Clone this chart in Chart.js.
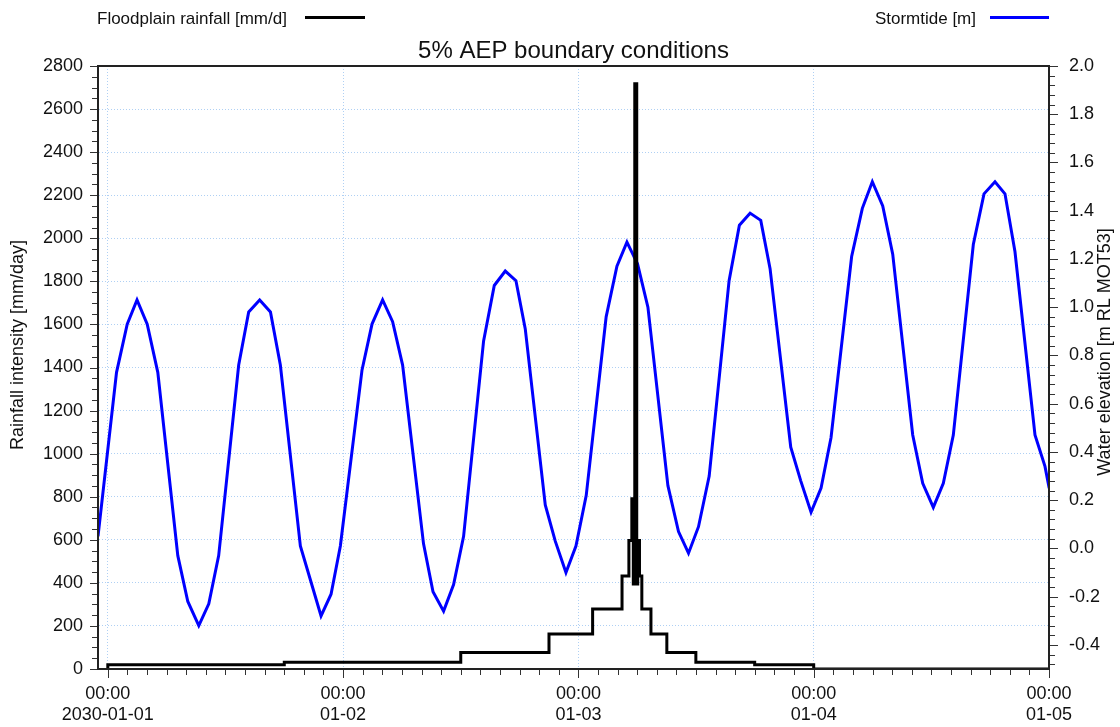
<!DOCTYPE html>
<html>
<head>
<meta charset="utf-8">
<title>5% AEP boundary conditions</title>
<script src="https://cdn.jsdelivr.net/npm/chart.js@4.4.1/dist/chart.umd.min.js"></script>
<style>
  html, body { margin: 0; padding: 0; background: #fff; }
  #wrap { width: 1120px; height: 727px; }
</style>
</head>
<body>
<div id="wrap"><canvas id="bcChart"></canvas></div>
<script>
// Time is in hours from 2030-01-01 00:00

// Floodplain rainfall [mm/d], each value holds from its start hour to the next one
const rainHours  = [0, 0, 18, 36, 45, 49.45, 52.45, 53.15, 53.45, 53.6, 53.75, 53.95, 54.05, 54.23, 54.47, 55.4, 57.02, 59.98, 65.98, 72, 96];
const rainValues = [0, 20, 31, 77, 162, 279, 432, 597, 790, 395, 2717, 395, 597, 432, 279, 162, 77, 31, 20, 0, 0];

// Stormtide [m]
const tideHours  = [-1, 0.89, 1.98, 2.98, 4.02, 5.10, 7.14, 8.16, 9.28, 10.30, 11.31, 13.35, 14.37, 15.49, 16.59, 17.60,
  19.64, 20.66, 21.75, 22.77, 23.72, 25.93, 26.95, 28.03, 29.05, 30.07, 32.20, 33.17, 34.25, 35.27, 36.29,
  38.33, 39.42, 40.54, 41.63, 42.58, 44.62, 45.64, 46.73, 47.75, 48.80, 50.83, 51.93, 52.95, 54.03, 55.09,
  57.13, 58.21, 59.23, 60.25, 61.34, 63.37, 64.42, 65.51, 66.60, 67.55, 69.66, 70.68, 71.73, 72.75, 73.77,
  75.87, 76.96, 77.98, 79.04, 80.06, 82.10, 83.12, 84.20, 85.22, 86.24, 88.28, 89.37, 90.49, 91.51, 92.53,
  94.57, 95.59, 96.02];
const tideLevels = [0.05, 0.73, 0.93, 1.03, 0.93, 0.73, -0.03, -0.22, -0.32, -0.23, -0.03, 0.76, 0.98, 1.03, 0.98, 0.76,
  0.01, -0.13, -0.28, -0.19, 0.01, 0.74, 0.93, 1.03, 0.94, 0.76, 0.02, -0.18, -0.26, -0.15, 0.05,
  0.86, 1.09, 1.15, 1.11, 0.91, 0.18, 0.03, -0.10, 0.01, 0.22, 0.96, 1.17, 1.27, 1.18, 1.00,
  0.26, 0.07, -0.02, 0.09, 0.30, 1.11, 1.34, 1.39, 1.36, 1.16, 0.42, 0.28, 0.15, 0.25, 0.46,
  1.21, 1.41, 1.52, 1.42, 1.22, 0.47, 0.27, 0.17, 0.27, 0.47, 1.26, 1.47, 1.52, 1.47, 1.23,
  0.47, 0.34, 0.25];

// Axis ticks
const dayHours  = [0, 24, 48, 72, 96];
const dayLabels = ['2030-01-01', '01-02', '01-03', '01-04', '01-05'];
const rainTicks = [0, 200, 400, 600, 800, 1000, 1200, 1400, 1600, 1800, 2000, 2200, 2400, 2600, 2800];
const levelTicks = [-0.4, -0.2, 0, 0.2, 0.4, 0.6, 0.8, 1.0, 1.2, 1.4, 1.6, 1.8, 2.0];

const FONT = '"Liberation Sans", Arial, sans-serif';
const GRID = 'rgba(110, 170, 235, 0.55)';

// Rahmen, Tick-Striche, Titel und Legende
const decorations = {
    id: 'decorations',
    afterDraw(chart) {
        const { ctx, chartArea: a, scales } = chart;
        ctx.save();

        ctx.strokeStyle = '#333';
        ctx.lineWidth = 1;
        const tick = (x1, y1, x2, y2) => {
            ctx.beginPath(); ctx.moveTo(x1, y1); ctx.lineTo(x2, y2); ctx.stroke();
        };
        for (let h = 0; h <= 96; h += 2) {
            const px = Math.round(scales.x.getPixelForValue(h)) + 0.5;
            tick(px, a.bottom, px, a.bottom + (h % 24 === 0 ? 9 : 6));
        }
        for (let k = 0; k <= 56; k++) {
            const py = Math.round(scales.y.getPixelForValue(k * 50)) + 0.5;
            tick(a.left - (k % 4 === 0 ? 8 : 6), py, a.left, py);
        }
        for (let k = -12; k <= 50; k++) {
            const py = Math.round(scales.y1.getPixelForValue(k * 0.04)) + 0.5;
            tick(a.right, py, a.right + (k % 5 === 0 ? 9 : 6), py);
        }

        ctx.strokeStyle = '#222';
        ctx.lineWidth = 2;
        ctx.strokeRect(a.left, a.top, a.right - a.left, a.bottom - a.top);

        ctx.fillStyle = '#111';
        ctx.textBaseline = 'alphabetic';

        ctx.font = '24px ' + FONT;
        ctx.textAlign = 'center';
        ctx.fillText('5% AEP boundary conditions', (a.left + a.right) / 2, 58);

        ctx.font = '17px ' + FONT;
        ctx.textAlign = 'left';
        ctx.fillText('Floodplain rainfall [mm/d]', 97, 24);
        ctx.textAlign = 'right';
        ctx.fillText('Stormtide [m]', 976, 24);

        ctx.lineWidth = 3;
        ctx.strokeStyle = '#000';
        tick(305, 17.5, 365, 17.5);
        ctx.strokeStyle = '#0000ff';
        tick(990, 17.5, 1049, 17.5);

        ctx.font = '18px ' + FONT;
        ctx.textAlign = 'center';
        ctx.textBaseline = 'middle';
        ctx.translate(18, 345);
        ctx.rotate(-Math.PI / 2);
        ctx.fillText('Rainfall intensity [mm/day]', 0, 0);
        ctx.setTransform(1, 0, 0, 1, 0, 0);
        ctx.translate(1105, 352);
        ctx.rotate(-Math.PI / 2);
        ctx.fillText('Water elevation [m RL MOT53]', 0, 0);

        ctx.restore();
    }
};

function buildChart() {
    const ctx = document.getElementById('bcChart').getContext('2d');
    return new Chart(ctx, {
        type: 'line',
        data: {
            datasets: [{
                label: 'Floodplain rainfall [mm/d]',
                data: rainHours.map((h, i) => ({ x: h, y: rainValues[i] })),
                yAxisID: 'y',
                borderColor: '#000',
                borderWidth: 3,
                stepped: 'before',
                pointRadius: 0
            }, {
                label: 'Stormtide [m]',
                data: tideHours.map((h, i) => ({ x: h, y: tideLevels[i] })),
                yAxisID: 'y1',
                borderColor: '#0000ff',
                borderWidth: 3,
                tension: 0,
                pointRadius: 0
            }]
        },
        options: {
            responsive: true,
            maintainAspectRatio: false,
            animation: false,
            layout: { padding: { top: 66, left: 0, right: 0, bottom: 0 } },
            plugins: {
                legend: { display: false },
                title: { display: false },
                tooltip: { enabled: false }
            },
            scales: {
                x: {
                    type: 'linear',
                    min: -1,
                    max: 96,
                    afterBuildTicks: s => { s.ticks = dayHours.map(v => ({ value: v })); },
                    afterFit: s => { s.height = 58; },
                    grid: { color: GRID, drawTicks: false },
                    border: { color: '#222', width: 2, dash: [1, 2] },
                    ticks: {
                        color: '#111',
                        font: { family: FONT, size: 18 },
                        padding: 14,
                        maxRotation: 0,
                        autoSkip: false,
                        callback: v => ['00:00', dayLabels[dayHours.indexOf(v)]]
                    }
                },
                y: {
                    position: 'left',
                    min: 0,
                    max: 2800,
                    afterBuildTicks: s => { s.ticks = rainTicks.map(v => ({ value: v })); },
                    afterFit: s => { s.width = 98; },
                    grid: { color: GRID, drawTicks: false },
                    border: { color: '#222', width: 2, dash: [1, 2] },
                    ticks: {
                        color: '#111',
                        font: { family: FONT, size: 18 },
                        padding: 15,
                        callback: v => String(v)
                    }
                },
                y1: {
                    position: 'right',
                    min: -0.5,
                    max: 2.0,
                    afterBuildTicks: s => { s.ticks = levelTicks.map(v => ({ value: v })); },
                    afterFit: s => { s.width = 71; },
                    grid: { drawOnChartArea: false, drawTicks: false },
                    border: { color: '#222', width: 2 },
                    ticks: {
                        color: '#111',
                        font: { family: FONT, size: 18 },
                        padding: 20,
                        callback: v => v.toFixed(1)
                    }
                }
            }
        },
        plugins: [decorations]
    });
}

document.addEventListener('DOMContentLoaded', buildChart);
</script>
</body>
</html>
